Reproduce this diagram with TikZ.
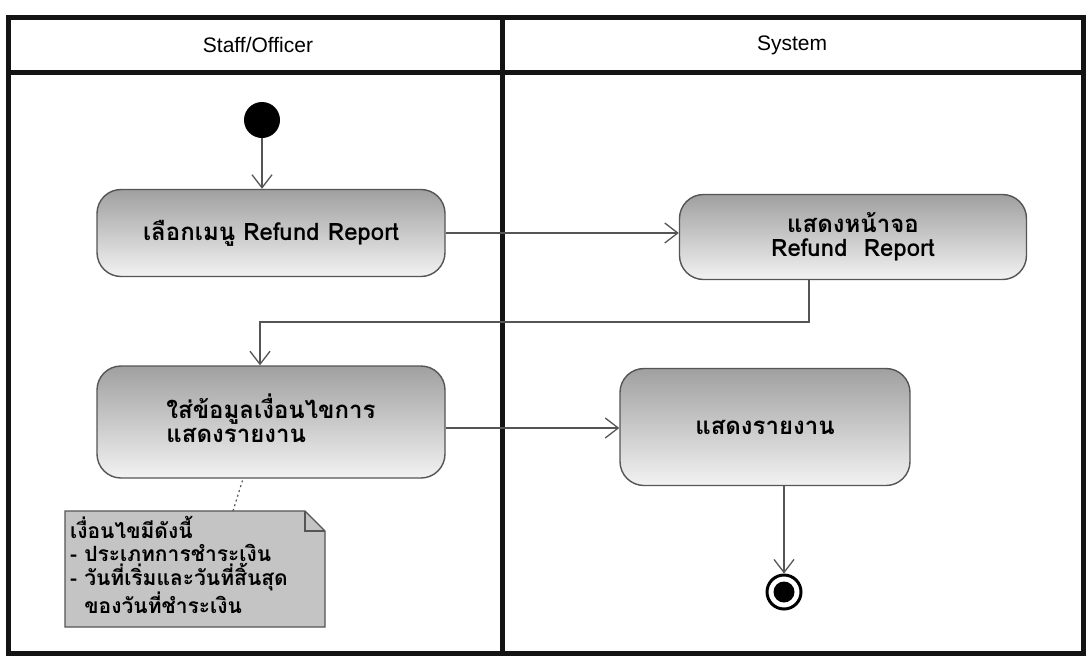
\documentclass[tikz,border=0pt]{standalone}
\usepackage{fontspec}
\setmainfont{Liberation Sans}
\newfontfamily\thaifont[Script=Thai]{Loma}
\usetikzlibrary{arrows.meta,calc}
\definecolor{lanecol}{RGB}{20,20,20}
\definecolor{linecol}{RGB}{85,85,85}
\definecolor{boxtop}{RGB}{160,160,160}
\definecolor{boxbot}{RGB}{242,242,242}
\definecolor{notecol}{RGB}{196,196,196}
\tikzset{
  actbox/.style={draw=linecol, line width=1.4pt, rounded corners=24pt,
    top color=boxtop, bottom color=boxbot, minimum width=#1,
    font=\thaifont\bfseries\fontsize{24}{27}\selectfont, align=center, inner sep=0pt},
  flow/.style={draw=linecol, line width=1.3pt, -{Straight Barb[length=13pt,width=20pt,line width=1.3pt]}},
  lane/.style={draw=lanecol, line width=5pt},
  hdr/.style={font=\fontsize{21}{24}\selectfont, inner sep=0pt},
  notetext/.style={font=\thaifont\bfseries\fontsize{21}{23.5}\selectfont, align=left, anchor=north west, inner sep=0pt}
}
\begin{document}
\begin{tikzpicture}[x=1pt,y=-1pt]
\useasboundingbox (0,0) rectangle (1089,664);
\fill[white] (0,0) rectangle (1089,664);
% swimlanes
\draw[lane] (8,17) rectangle (1083,653);
\draw[lane] (8,72) -- (1083,72);
\draw[lane] (502,17) -- (502,653);
\node[hdr] (h1) at (258,45) {Staff/Officer};
\node[hdr] (h2) at (792,45) {System};
% start
\node[circle, fill=black, minimum size=36pt, inner sep=0pt] (start) at (262,120) {};
% actions
\node[actbox=348pt, minimum height=87pt] (b1) at (271,233) {เลือกเมนู Refund Report};
\node[actbox=347pt, minimum height=85pt] (b3) at (853,237) {แสดงหน้าจอ\\[-3pt]Refund\ \ Report};
\node[actbox=348pt, minimum height=112pt] (b2) at (271,422) {\begin{tabular}{@{}l@{}}ใส่ข้อมูลเงื่อนไขการ\\[-3pt]แสดงรายงาน\end{tabular}};
\node[actbox=290pt, minimum height=117pt] (b4) at (765,427) {แสดงรายงาน};
% final
\node[circle, draw=black, line width=3pt, fill=white, minimum size=34pt, inner sep=0pt] (final) at (784,592) {};
\fill[black] (final.center) circle (10.5pt);
% note
\draw[linecol, line width=1.2pt, fill=notecol] (65,511) -- (305,511) -- (325,531) -- (325,627) -- (65,627) -- cycle;
\draw[linecol, line width=1.2pt] (305,511) -- (305,531) -- (325,531);
\node[notetext] (nt) at (70,516) {เงื่อนไขมีดังนี้\\- ประเภทการชำระเงิน\\- วันที่เริ่มและวันที่สิ้นสุด\\\ \ ของวันที่ชำระเงิน};
\draw[linecol, line width=1.2pt, dash pattern=on 2pt off 3pt] (233,511) -- (b2.south -| 243,0);
% flows
\draw[flow] (start) -- (start |- b1.north);
\draw[flow] (b1.east) -- (b1.east -| b3.west);
\coordinate (c1) at (809,322);
\coordinate (c2) at (260,322);
\draw[flow] (b3.south -| c1) -- (c1) -- (c2) -- (c2 |- b2.north);
\draw[flow] (b2.east |- 0,428) -- (b4.west |- 0,428);
\draw[flow] (b4.south -| final) -- (final.north);
\end{tikzpicture}
\end{document}
